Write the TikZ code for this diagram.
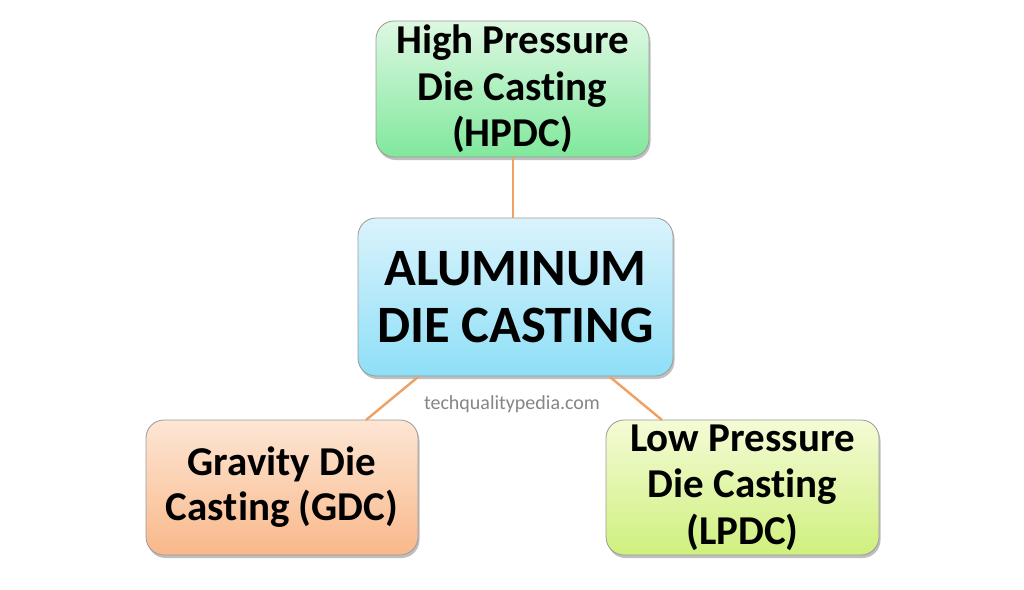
\documentclass[tikz,border=0pt]{standalone}
\usepackage{fontspec}
\setmainfont[Ligatures={NoCommon}]{Carlito}
\usetikzlibrary{shadows}
\definecolor{edgeor}{HTML}{F0A060}
\definecolor{bordgray}{HTML}{9A9A9A}
\definecolor{hpTop}{HTML}{DDF8E2}
\definecolor{hpBot}{HTML}{80E89C}
\definecolor{alTop}{HTML}{DAF3FC}
\definecolor{alBot}{HTML}{8EDFF7}
\definecolor{gdTop}{HTML}{FDE6D4}
\definecolor{gdBot}{HTML}{F9B88A}
\definecolor{lpTop}{HTML}{F4FBD6}
\definecolor{lpBot}{HTML}{CFF07E}
\tikzset{
  x=1pt,y=-1pt,
  boxbase/.style={draw=bordgray, line width=0.8pt, rounded corners=18pt, align=center,
    inner sep=0pt, font=\bfseries,
    drop shadow={shadow xshift=1.5pt, shadow yshift=-3pt, opacity=0.25, fill=black}},
  conn/.style={draw=edgeor, line width=2.4pt},
}
\begin{document}
\begin{tikzpicture}
\useasboundingbox (0,0) rectangle (1024,589);
\fill[white] (0,0) rectangle (1024,589);
\node[boxbase, minimum width=273pt, minimum height=136pt, top color=hpTop, bottom color=hpBot,
  font=\bfseries\fontsize{41}{46.5}\selectfont] (hp) at (512.5,89) {High Pressure\\Die Casting\\(HPDC)};
\node[boxbase, minimum width=315pt, minimum height=158pt, top color=alTop, bottom color=alBot,
  font=\bfseries\fontsize{52.5}{57}\selectfont] (al) at (515.5,297) {ALUMINUM\\DIE CASTING};
\node[boxbase, minimum width=272pt, minimum height=135pt, top color=gdTop, bottom color=gdBot,
  font=\bfseries\fontsize{41}{45}\selectfont] (gd) at (282,487.5) {Gravity Die\\Casting (GDC)};
\node[boxbase, minimum width=273pt, minimum height=135pt, top color=lpTop, bottom color=lpBot,
  font=\bfseries\fontsize{41}{46.5}\selectfont] (lp) at (742.5,487.5) {Low Pressure\\Die Casting\\(LPDC)};
\coordinate (alT) at (513,218);
\coordinate (alL) at (418,377);
\coordinate (alR) at (610,377);
\coordinate (gdT) at (366,420);
\coordinate (lpT) at (662,420);
\draw[conn] (hp.south -| alT) -- (alT);
\draw[conn] (alL) -- (gdT);
\draw[conn] (alR) -- (lpT);
\node[text=gray!95, font=\fontsize{20}{24}\selectfont] (web) at (512,404) {techqualitypedia.com};
\end{tikzpicture}
\end{document}
